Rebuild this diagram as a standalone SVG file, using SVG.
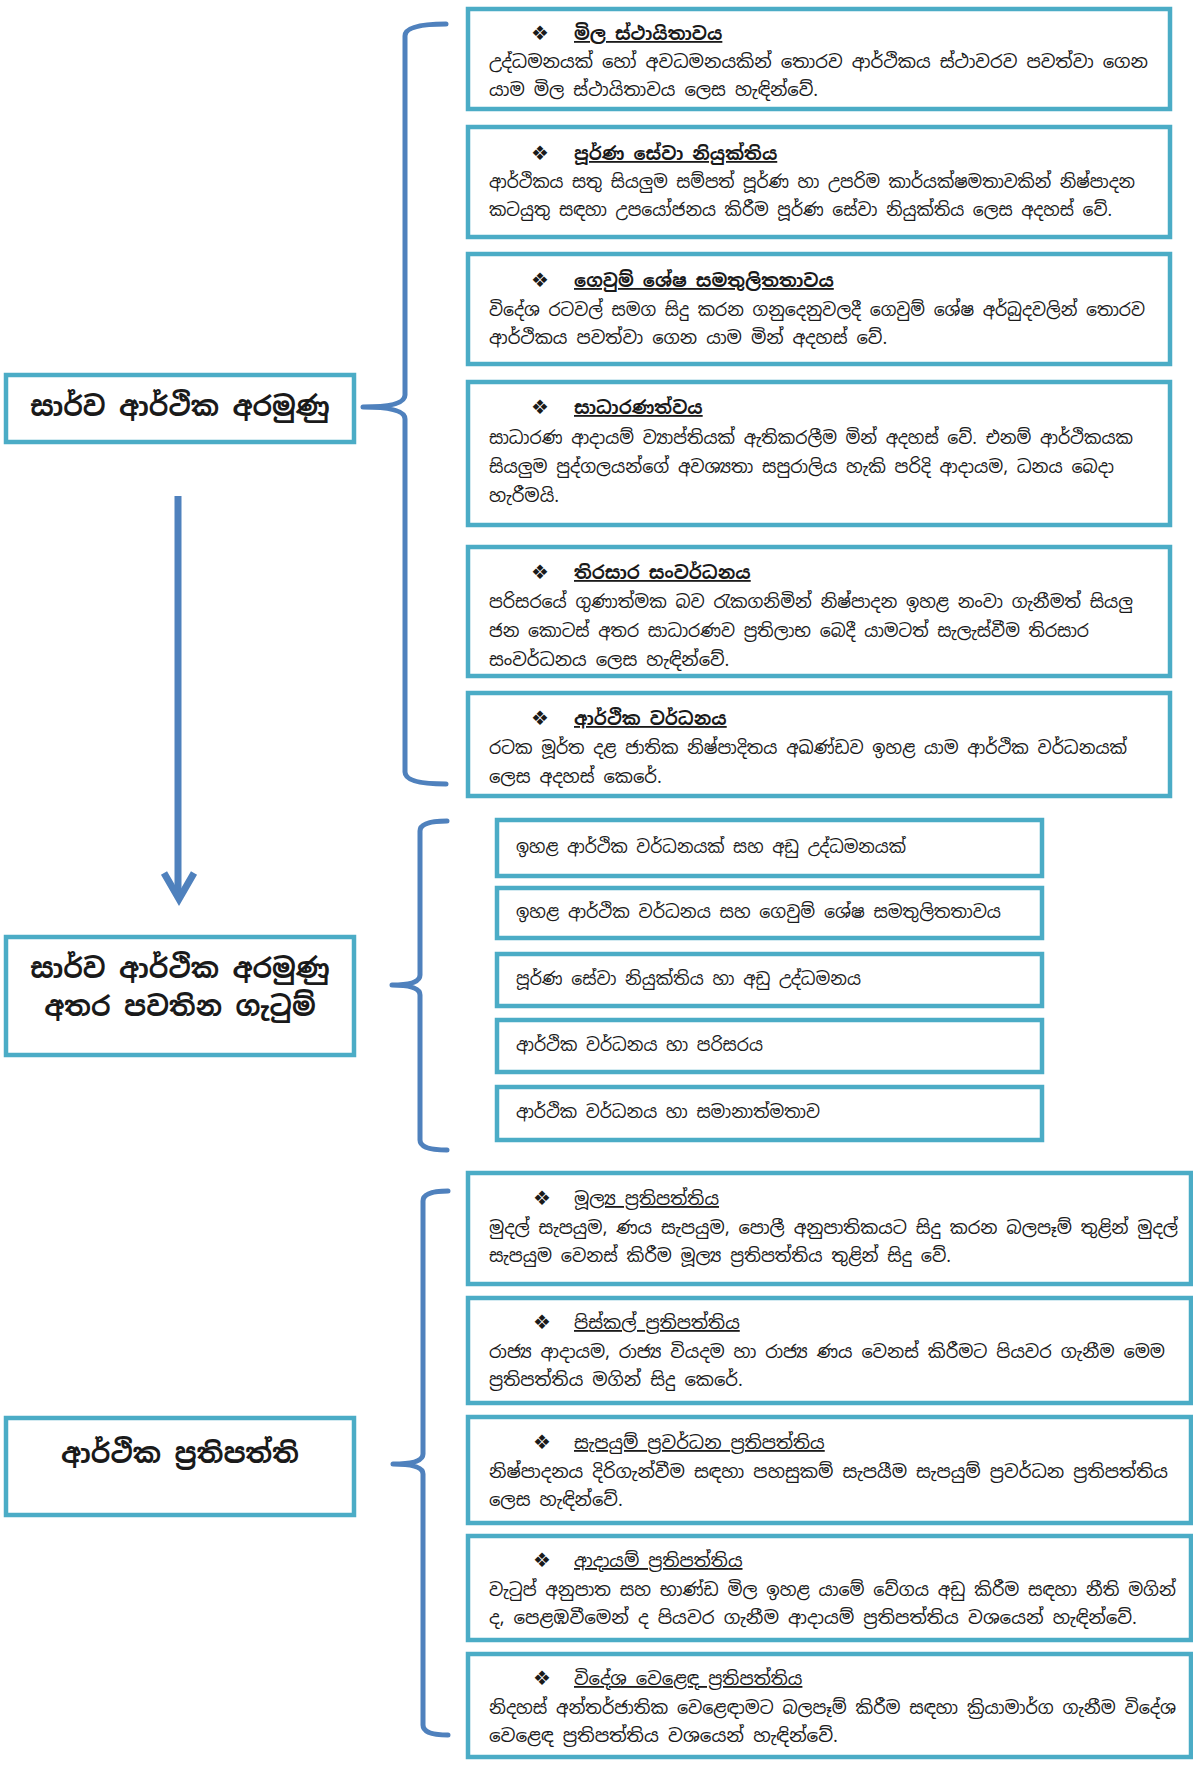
<svg xmlns="http://www.w3.org/2000/svg" width="1193" height="1765" viewBox="0 0 1193 1765">
<style>
.box{fill:#fff;stroke:#4BACC6;stroke-width:4.5}
.brace{fill:none;stroke:#4F81BD;stroke-width:5;stroke-linecap:round;stroke-linejoin:round}
.si{font-family:'Noto Sans Sinhala','Noto Serif Sinhala','Iskoola Pota','Noto Sans',sans-serif;fill:#1a1a1a}
.body{font-size:18px}
.hd{font-size:18px;font-weight:bold;text-decoration:underline}
.hdr{font-size:18px;text-decoration:underline}
.mid{font-size:17.5px}
.big{font-size:27px;font-weight:bold;text-anchor:middle}
.bul{font-family:'DejaVu Sans',sans-serif;font-size:20px;fill:#1a1a1a}
</style>
<rect width="1193" height="1765" fill="#fff"/>

<g id="connectors">
<path class="brace" d="M446,24 Q405,24 405,36 L405,395 Q405,407 363,407 Q405,407 405,419 L405,772 Q405,784 446,784"/>
<path class="brace" d="M447,821 Q420,821 420,831 L420,975 Q420,985 392,985 Q420,985 420,995 L420,1140 Q420,1150 447,1150"/>
<path class="brace" d="M448,1191 Q423,1191 423,1201 L423,1454 Q423,1464 393,1464 Q423,1464 423,1474 L423,1725 Q423,1735 448,1735"/>
<line x1="178" y1="496" x2="178" y2="896" stroke="#4F81BD" stroke-width="7"/>
<polyline points="164,873 179,899 194,873" fill="none" stroke="#4F81BD" stroke-width="7" stroke-linejoin="miter"/>
</g>

<g id="node-macro-goals">
<rect class="box" x="6" y="375" width="348" height="67"/>
<text class="si big" x="180" y="416">සාර්ව ආර්ථික අරමුණු</text>
</g>
<g id="node-conflicts">
<rect class="box" x="6" y="937" width="348" height="118"/>
<text class="si big" x="180" y="978">සාර්ව ආර්ථික අරමුණු</text>
<text class="si big" x="180" y="1016">අතර පවතින ගැටුම්</text>
</g>
<g id="node-policies">
<rect class="box" x="6" y="1418" width="348" height="97"/>
<text class="si big" x="180" y="1463">ආර්ථික ප්‍රතිපත්ති</text>
</g>

<g id="goal-1">
<rect class="box" x="468" y="9" width="702" height="100"/>
<text class="bul" x="531" y="40">❖</text>
<text class="si hd" x="574" y="40">මිල ස්ථායිතාවය</text>
<text class="si body" x="489" y="68" textLength="659" lengthAdjust="spacingAndGlyphs">උද්ධමනයක් හෝ අවධමනයකින් තොරව ආර්ථිකය ස්ථාවරව පවත්වා ගෙන</text>
<text class="si body" x="489" y="96">යාම මිල ස්ථායිතාවය ලෙස හැඳින්වේ.</text>
</g>
<g id="goal-2">
<rect class="box" x="468" y="127" width="702" height="110"/>
<text class="bul" x="531" y="160">❖</text>
<text class="si hd" x="574" y="160">පූර්ණ සේවා නියුක්තිය</text>
<text class="si body" x="489" y="188" textLength="646" lengthAdjust="spacingAndGlyphs">ආර්ථිකය සතු සියලුම සම්පත් පූර්ණ හා උපරිම කාර්යක්ෂමතාවකින් නිෂ්පාදන</text>
<text class="si body" x="489" y="216" textLength="623" lengthAdjust="spacingAndGlyphs">කටයුතු සඳහා උපයෝජනය කිරීම පූර්ණ සේවා නියුක්තිය ලෙස අදහස් වේ.</text>
</g>
<g id="goal-3">
<rect class="box" x="468" y="254" width="702" height="110"/>
<text class="bul" x="531" y="287">❖</text>
<text class="si hd" x="574" y="287">ගෙවුම් ශේෂ සමතුලිතතාවය</text>
<text class="si body" x="489" y="316" textLength="656" lengthAdjust="spacingAndGlyphs">විදේශ රටවල් සමග සිදු කරන ගනුදෙනුවලදී ගෙවුම් ශේෂ අර්බුදවලින් තොරව</text>
<text class="si body" x="489" y="344">ආර්ථිකය පවත්වා ගෙන යාම මින් අදහස් වේ.</text>
</g>
<g id="goal-4">
<rect class="box" x="468" y="382" width="702" height="143"/>
<text class="bul" x="531" y="414">❖</text>
<text class="si hd" x="574" y="414">සාධාරණත්වය</text>
<text class="si body" x="489" y="444" textLength="644" lengthAdjust="spacingAndGlyphs">සාධාරණ ආදායම් ව්‍යාප්තියක් ඇතිකරලීම මින් අදහස් වේ. එනම් ආර්ථිකයක</text>
<text class="si body" x="489" y="473" textLength="625" lengthAdjust="spacingAndGlyphs">සියලුම පුද්ගලයන්ගේ අවශ්‍යතා සපුරාලිය හැකි පරිදි ආදායම, ධනය බෙදා</text>
<text class="si body" x="489" y="502">හැරීමයි.</text>
</g>
<g id="goal-5">
<rect class="box" x="468" y="547" width="702" height="129"/>
<text class="bul" x="531" y="579">❖</text>
<text class="si hd" x="574" y="579">තිරසාර සංවර්ධනය</text>
<text class="si body" x="489" y="608" textLength="644" lengthAdjust="spacingAndGlyphs">පරිසරයේ ගුණාත්මක බව රැකගනිමින් නිෂ්පාදන ඉහළ නංවා ගැනීමත් සියලු</text>
<text class="si body" x="489" y="637" textLength="600" lengthAdjust="spacingAndGlyphs">ජන කොටස් අතර සාධාරණව ප්‍රතිලාභ බෙදී යාමටත් සැලැස්වීම තිරසාර</text>
<text class="si body" x="489" y="666">සංවර්ධනය ලෙස හැඳින්වේ.</text>
</g>
<g id="goal-6">
<rect class="box" x="468" y="693" width="702" height="103"/>
<text class="bul" x="531" y="725">❖</text>
<text class="si hd" x="574" y="725">ආර්ථික වර්ධනය</text>
<text class="si body" x="489" y="754" textLength="638" lengthAdjust="spacingAndGlyphs">රටක මූර්ත දළ ජාතික නිෂ්පාදිතය අඛණ්ඩව ඉහළ යාම ආර්ථික වර්ධනයක්</text>
<text class="si body" x="489" y="783">ලෙස අදහස් කෙරේ.</text>
</g>

<g id="conflict-1">
<rect class="box" x="497" y="820" width="545" height="56"/>
<text class="si mid" x="516" y="853" textLength="390" lengthAdjust="spacingAndGlyphs">ඉහළ ආර්ථික වර්ධනයක් සහ අඩු උද්ධමනයක්</text>
</g>
<g id="conflict-2">
<rect class="box" x="497" y="888" width="545" height="50"/>
<text class="si mid" x="516" y="918" textLength="485" lengthAdjust="spacingAndGlyphs">ඉහළ ආර්ථික වර්ධනය සහ ගෙවුම් ශේෂ සමතුලිතතාවය</text>
</g>
<g id="conflict-3">
<rect class="box" x="497" y="954" width="545" height="52"/>
<text class="si mid" x="516" y="985" textLength="345" lengthAdjust="spacingAndGlyphs">පූර්ණ සේවා නියුක්තිය හා අඩු උද්ධමනය</text>
</g>
<g id="conflict-4">
<rect class="box" x="497" y="1020" width="545" height="52"/>
<text class="si mid" x="516" y="1051" textLength="247" lengthAdjust="spacingAndGlyphs">ආර්ථික වර්ධනය හා පරිසරය</text>
</g>
<g id="conflict-5">
<rect class="box" x="497" y="1087" width="545" height="53"/>
<text class="si mid" x="516" y="1118" textLength="304" lengthAdjust="spacingAndGlyphs">ආර්ථික වර්ධනය හා සමානාත්මතාව</text>
</g>

<g id="policy-1">
<rect class="box" x="468" y="1173" width="723" height="111"/>
<text class="bul" x="533" y="1205">❖</text>
<text class="si hdr" x="574" y="1205">මූල්‍ය ප්‍රතිපත්තිය</text>
<text class="si body" x="489" y="1234" textLength="689" lengthAdjust="spacingAndGlyphs">මුදල් සැපයුම, ණය සැපයුම, පොලී අනුපාතිකයට සිදු කරන බලපෑම් තුළින් මුදල්</text>
<text class="si body" x="489" y="1262" textLength="462" lengthAdjust="spacingAndGlyphs">සැපයුම වෙනස් කිරීම  මූල්‍ය ප්‍රතිපත්තිය තුළින් සිදු වේ.</text>
</g>
<g id="policy-2">
<rect class="box" x="468" y="1298" width="723" height="105"/>
<text class="bul" x="533" y="1329">❖</text>
<text class="si hdr" x="574" y="1329">පිස්කල් ප්‍රතිපත්තිය</text>
<text class="si body" x="489" y="1358" textLength="676" lengthAdjust="spacingAndGlyphs">රාජ්‍ය ආදායම, රාජ්‍ය වියදම හා රාජ්‍ය ණය වෙනස් කිරීමට පියවර ගැනීම මෙම</text>
<text class="si body" x="489" y="1386">ප්‍රතිපත්තිය මගින් සිදු කෙරේ.</text>
</g>
<g id="policy-3">
<rect class="box" x="468" y="1417" width="723" height="106"/>
<text class="bul" x="533" y="1449">❖</text>
<text class="si hdr" x="574" y="1449">සැපයුම් ප්‍රවර්ධන ප්‍රතිපත්තිය</text>
<text class="si body" x="489" y="1478" textLength="679" lengthAdjust="spacingAndGlyphs">නිෂ්පාදනය දිරිගැන්වීම සඳහා පහසුකම් සැපයීම සැපයුම් ප්‍රවර්ධන ප්‍රතිපත්තිය</text>
<text class="si body" x="489" y="1506">ලෙස හැඳින්වේ.</text>
</g>
<g id="policy-4">
<rect class="box" x="468" y="1536" width="723" height="104"/>
<text class="bul" x="533" y="1567">❖</text>
<text class="si hdr" x="574" y="1567">ආදායම් ප්‍රතිපත්තිය</text>
<text class="si body" x="489" y="1596" textLength="687" lengthAdjust="spacingAndGlyphs">වැටුප් අනුපාත සහ භාණ්ඩ මිල ඉහළ යාමේ වේගය අඩු කිරීම සඳහා නීති මගින්</text>
<text class="si body" x="489" y="1624" textLength="648" lengthAdjust="spacingAndGlyphs">ද, පෙළඹවීමෙන් ද පියවර ගැනීම ආදායම් ප්‍රතිපත්තිය වශයෙන් හැඳින්වේ.</text>
</g>
<g id="policy-5">
<rect class="box" x="468" y="1654" width="723" height="103"/>
<text class="bul" x="533" y="1685">❖</text>
<text class="si hdr" x="574" y="1685">විදේශ වෙළෙඳ ප්‍රතිපත්තිය</text>
<text class="si body" x="489" y="1714" textLength="687" lengthAdjust="spacingAndGlyphs">නිදහස් අන්තර්ජාතික වෙළෙඳාමට බලපෑම් කිරීම සඳහා ක්‍රියාමාර්ග ගැනීම විදේශ</text>
<text class="si body" x="489" y="1742" textLength="349" lengthAdjust="spacingAndGlyphs">වෙළෙඳ ප්‍රතිපත්තිය වශයෙන් හැඳින්වේ.</text>
</g>
</svg>
